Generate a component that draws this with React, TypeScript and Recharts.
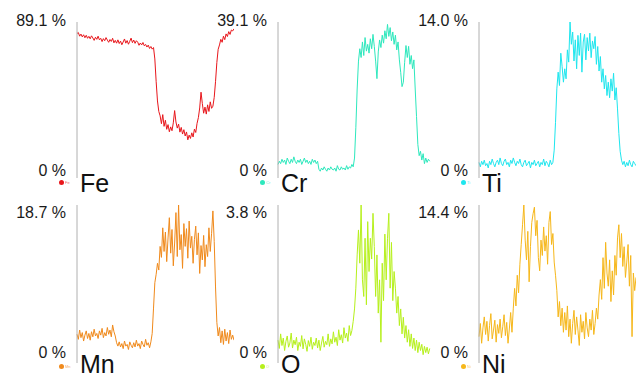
import React from 'react';
import { LineChart, Line, XAxis, YAxis } from 'recharts';

// EDS line scan, one profile per element (at.%), 120 steps along the line
const elements = ['Fe', 'Cr', 'Ti', 'Mn', 'O', 'Ni'];
const maxima = [89.1, 39.1, 14.0, 18.7, 3.8, 14.4];
const colors = ['#e8161b', '#2de8bd', '#1ee6ee', '#f08a1c', '#b6f01c', '#f6b71a'];

const feValues = [
  82.5, 83.1, 81.0, 82.2, 80.6, 81.8, 80.1, 81.5, 79.8, 80.9,
  79.5, 81.2, 80.0, 78.6, 80.4, 79.2, 81.0, 78.9, 79.8, 77.9,
  79.6, 78.4, 80.2, 78.8, 77.5, 79.1, 78.0, 79.8, 77.2, 78.6,
  77.0, 78.9, 76.8, 78.2, 76.1, 77.7, 79.4, 77.0, 78.5, 76.4,
  78.1, 79.9, 77.3, 78.8, 76.9, 78.4, 77.6, 75.8, 77.1, 76.0,
  77.4, 75.5, 76.3, 74.8, 75.9, 74.0, 75.1, 73.6, 74.5,
  68.0, 55.0, 44.0, 38.0, 35.5,
  31.0, 36.2, 29.5, 33.0, 27.8, 30.5, 26.4, 29.2, 27.0, 31.5,
  38.5, 32.0, 28.5, 30.8, 26.2, 28.9, 25.1, 27.6, 24.0, 26.3, 21.8,
  24.5, 22.6, 25.8, 23.4, 27.9, 26.0, 31.2, 34.5, 40.0,
  49.0, 42.5, 37.0, 40.5, 36.5, 41.8, 38.0, 43.5, 39.8, 41.0,
  46.0, 55.0, 66.0, 73.5, 76.0, 79.2, 77.5, 81.0, 79.0, 82.3,
  80.8, 83.6, 82.0, 84.5, 84.0, 85.2,
];

const crValues = [
  3.4, 4.2, 3.6, 4.7, 3.9, 4.5, 3.4, 5.0, 4.2, 3.6, 4.7, 3.9, 5.3, 4.2, 3.6, 4.5,
  3.9, 4.7, 3.4, 4.2, 5.0, 3.9, 4.5, 3.6, 4.2, 3.4, 4.7, 3.9, 4.5, 3.6, 4.2,
  2.2, 1.7, 2.5, 2.0, 2.8, 2.2, 1.7, 2.5, 2.0, 2.8, 2.2, 2.0, 2.5, 1.7, 3.1, 2.2,
  2.0, 2.8, 2.2, 2.5, 2.0, 3.1, 2.2, 2.8, 2.5, 3.4, 2.8,
  5.0, 12.6, 22.3, 29.3, 32.4, 30.2, 34.1, 30.7, 35.2, 31.8, 33.5, 31.3, 34.9, 32.4,
  36.0, 33.0, 29.3, 24.9, 31.6, 34.6, 32.7, 35.8, 33.8, 36.9, 34.9, 38.5, 35.5, 37.7,
  34.4, 36.6, 33.5, 35.8, 32.1, 34.1, 29.6, 26.5, 22.9, 24.0, 29.0, 33.2, 30.2, 33.0,
  28.5, 30.7, 27.4, 29.6, 22.3, 15.4, 8.4, 5.6, 6.7, 4.5, 6.1, 3.6, 5.0, 3.9, 4.7, 4.2,
];

const tiValues = [
  1.4, 1.0, 1.5, 1.2, 1.6, 1.1, 1.3, 0.9, 1.5, 1.2, 1.7, 1.3, 1.0, 1.4, 1.6, 1.2,
  1.8, 1.3, 1.1, 1.5, 1.7, 1.2, 1.4, 1.0, 1.6, 1.3, 1.8, 1.4, 1.1, 1.5, 1.3, 1.7,
  1.2, 1.0, 1.4, 1.6, 1.1, 1.3, 1.5, 0.9, 1.4, 1.2, 1.6, 1.1, 1.3, 1.5, 1.0, 1.4,
  1.2, 1.7, 1.1, 1.5, 1.3, 1.0, 1.6, 1.2, 1.4,
  2.5, 5.0, 8.0, 9.5, 8.3, 11.2, 10.0, 8.6, 9.8, 8.9, 11.5, 10.4, 14.0, 12.0, 13.1,
  10.5, 12.4, 9.8, 12.8, 11.0, 13.0, 9.5, 12.2, 12.9, 10.6, 12.6, 11.4, 13.0, 10.8,
  12.3, 11.6, 12.7, 10.2, 11.8, 9.6, 10.9, 8.6, 9.8, 8.0, 9.2, 7.4, 8.6, 7.2, 8.9,
  7.8, 9.4, 7.0, 8.1, 6.2, 4.0, 2.4, 1.6, 1.2, 1.5, 1.0, 1.4, 1.1, 1.6, 1.2, 1.0,
  1.5, 1.3, 1.1,
];

const mnValues = [
  3.4, 2.8, 3.9, 3.0, 3.6, 2.6, 3.3, 3.8, 2.9, 3.5, 2.7, 3.7, 3.1, 4.0, 3.2, 3.5,
  2.9, 3.8, 3.3, 4.1, 3.0, 3.6, 3.2, 4.2, 3.4, 3.9, 3.1, 4.5, 3.7,
  3.2, 2.4, 2.0, 2.5, 1.9, 2.3, 1.7, 2.6, 2.0, 2.2, 1.6, 2.5, 2.1, 1.8, 2.4, 1.9,
  2.7, 2.0, 2.3, 1.7, 2.6, 2.2, 1.9, 2.8, 2.1, 2.4, 1.8, 2.5,
  3.5, 6.5, 9.5, 10.5, 11.8, 11.0, 13.8, 12.5, 16.0, 13.2, 15.5, 12.0, 14.8, 17.2,
  13.0, 15.8, 11.5, 14.2, 17.8, 12.6, 18.7, 13.4, 15.2, 11.2, 16.5, 13.8, 15.9, 12.4,
  16.8, 13.6, 15.0, 11.8, 14.6, 16.2, 12.8, 15.4, 10.6, 13.9, 12.2, 15.1, 11.4, 14.0,
  12.6, 16.0, 13.2, 15.3, 18.0, 14.4, 9.0, 4.8, 3.2, 4.2, 2.4, 3.8, 2.2, 4.0, 2.6,
  3.6, 2.3, 3.9, 2.8, 3.3, 2.7,
];

const oValues = [
  0.55, 0.35, 0.70, 0.42, 0.60, 0.30, 0.52, 0.65, 0.38, 0.48, 0.72, 0.36, 0.55, 0.44,
  0.62, 0.30, 0.50, 0.40, 0.66, 0.34, 0.58, 0.45, 0.28, 0.54, 0.40, 0.62, 0.33, 0.50,
  0.42, 0.60, 0.36, 0.55, 0.30, 0.48, 0.64, 0.38, 0.52, 0.44, 0.70, 0.40, 0.58, 0.46,
  0.75, 0.50, 0.62, 0.42, 0.80, 0.55, 0.68, 0.48, 0.85, 0.60, 0.72, 0.52, 0.90, 0.66,
  0.78, 1.00,
  1.3, 1.8, 2.6, 3.2, 2.4, 3.8, 2.0, 1.6, 3.0, 1.4, 3.4, 2.2, 3.0, 2.5, 3.6, 2.8,
  1.6, 2.6, 1.2, 2.0, 0.5, 2.4, 1.5, 3.1, 2.0, 3.0, 3.6, 1.8, 2.9, 1.5, 2.2, 1.8,
  1.2, 1.6, 0.9, 1.3, 0.7, 1.1, 0.6, 0.9, 0.5, 0.8, 0.4, 0.7, 0.35, 0.6, 0.3, 0.55,
  0.25, 0.5, 0.3, 0.45, 0.2, 0.4, 0.25, 0.38, 0.22, 0.35,
];

const niValues = [
  2.4, 3.6, 1.8, 3.2, 4.2, 2.6, 3.8, 2.0, 3.4, 4.5, 2.2, 3.0, 3.9, 1.9, 3.5, 2.7,
  4.0, 2.3, 3.3, 4.4, 2.5, 3.7, 1.8, 3.1, 4.6, 2.8,
  5.0, 6.8, 5.2, 8.0, 6.4, 9.0, 10.8, 12.6, 14.4, 11.2, 9.4, 12.0, 7.4, 10.6, 12.8,
  13.6, 14.2, 11.6, 13.0, 9.6, 8.4, 11.2, 9.8, 12.4, 10.2, 11.6, 9.0, 12.8, 13.8,
  10.8, 11.8, 9.2, 8.0, 6.6, 4.2, 5.6, 3.4, 5.0, 2.8, 4.6, 3.0, 5.2, 2.4, 4.0, 1.8,
  3.6, 4.8, 2.6, 4.2, 3.0, 1.6, 4.4, 2.8, 3.8, 2.2, 4.6, 3.2, 2.4, 4.0, 3.0, 4.8,
  2.6, 3.6, 5.0, 4.0, 6.2, 7.6, 5.8, 9.6, 6.8, 11.0, 8.2, 7.0, 9.4, 5.6, 8.4, 6.2,
  9.8, 8.0, 11.4, 12.6, 9.6, 11.8, 8.8, 10.6, 7.8, 9.2, 10.8, 7.0, 9.8, 2.4, 8.2,
  6.6, 7.8,
];

const series = [feValues, crValues, tiValues, mnValues, oValues, niValues];

const FONT = '"Liberation Sans", Arial, sans-serif';
const AXIS_X = [77, 278, 479];
const ROWS = [
  { top: 22, height: 156, maxTop: 13, zeroTop: 163, nameTop: 172, dotY: 183 },
  { top: 205, height: 158, maxTop: 205, zeroTop: 345, nameTop: 353, dotY: 367 },
];
const PLOT_W = 157;
const Y_AXIS_W = 4;

const Panel: React.FC<{ idx: number }> = ({ idx }) => {
  const row = ROWS[Math.floor(idx / 3)];
  const ax = AXIS_X[idx % 3];
  const max = maxima[idx];
  const color = colors[idx];
  const data = series[idx].map((v, i) => ({ step: i, value: v }));

  return (
    <>
      <div
        style={{
          position: 'absolute', left: ax - 11 - 70, width: 70, top: row.maxTop,
          textAlign: 'right', fontSize: 16, lineHeight: '16px', color: '#1a1a1a',
        }}
      >
        {max.toFixed(1)} %
      </div>
      <div
        style={{
          position: 'absolute', left: ax - 11 - 70, width: 70, top: row.zeroTop,
          textAlign: 'right', fontSize: 16, lineHeight: '16px', color: '#1a1a1a',
        }}
      >
        0 %
      </div>
      <div
        style={{
          position: 'absolute', left: ax + 3, top: row.nameTop,
          fontSize: 25, lineHeight: '22px', color: '#111',
        }}
      >
        {elements[idx]}
      </div>
      <div
        style={{
          position: 'absolute', left: ax - 18, top: row.dotY - 3,
          display: 'flex', alignItems: 'center', gap: 1,
        }}
      >
        <span style={{ width: 5, height: 5, borderRadius: '50%', background: color, display: 'inline-block' }} />
        <span style={{ fontSize: 4, lineHeight: '5px', color: color, opacity: 0.7 }}>{elements[idx]}</span>
      </div>
      <div style={{ position: 'absolute', left: ax - Y_AXIS_W, top: row.top }}>
        <LineChart
          width={Y_AXIS_W + PLOT_W}
          height={row.height}
          data={data}
          margin={{ top: 0, right: 0, bottom: 0, left: 0 }}
        >
          <XAxis dataKey="step" type="number" domain={[0, 119]} hide />
          <YAxis
            type="number"
            domain={[0, max]}
            ticks={[max / 2]}
            width={Y_AXIS_W}
            tick={false}
            tickSize={3}
            tickLine={{ stroke: '#a8a8a8' }}
            axisLine={{ stroke: '#b0b0b0' }}
          />
          <Line
            type="linear"
            dataKey="value"
            stroke={color}
            strokeWidth={1}
            dot={false}
            isAnimationActive={false}
          />
        </LineChart>
      </div>
    </>
  );
};

export default function App() {
  return (
    <div
      style={{
        position: 'absolute', left: 0, top: 0, width: 638, height: 379,
        background: '#fff', overflow: 'hidden', fontFamily: FONT,
      }}
    >
      {elements.map((_, i) => (
        <Panel key={i} idx={i} />
      ))}
    </div>
  );
}
